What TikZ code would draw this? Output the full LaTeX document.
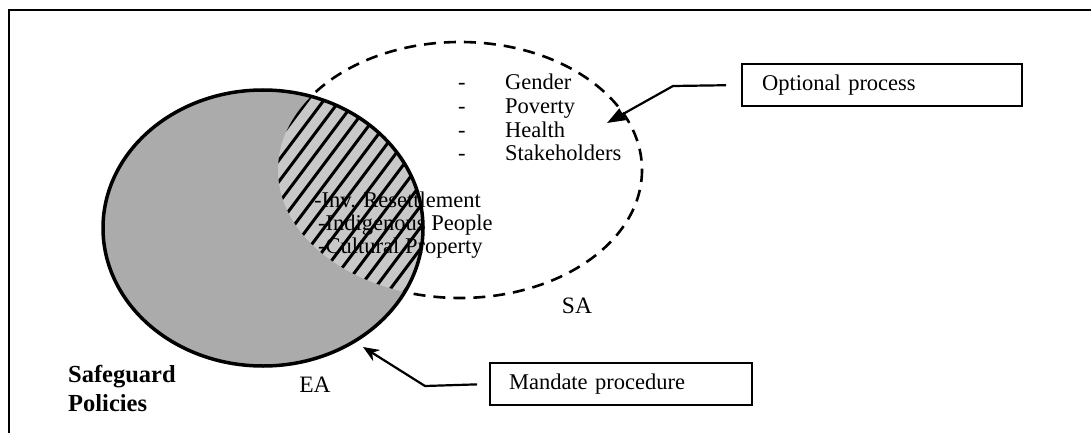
\documentclass[tikz,border=0pt]{standalone}
\usepackage{fontspec}
\setmainfont{Liberation Serif}
\usetikzlibrary{arrows.meta}
\definecolor{eagray}{HTML}{ABABAB}
\definecolor{hatchgray}{HTML}{C8C8C8}
\begin{document}
\begin{tikzpicture}[x=1pt,y=-1pt,
  txt/.style={inner sep=0pt, anchor=base west, font=\fontsize{22.5}{24}\selectfont},
  bigtxt/.style={inner sep=0pt, anchor=base, font=\fontsize{23.5}{25}\selectfont},
  titletxt/.style={inner sep=0pt, anchor=base west, font=\bfseries\fontsize{24.5}{29}\selectfont},
  callout/.style={draw, line width=1.8pt, minimum height=42pt, inner ysep=0pt,
    align=left, font=\fontsize{22.5}{24}\selectfont},
  pointer/.style={line width=2.2pt},
]
\useasboundingbox (0,0) rectangle (1091,433);

% page frame (top and left edges)
\draw[line width=2pt] (9,433) -- (9,10) -- (1091,10);

% SA: dashed circle of the optional social assessment
\draw[line width=2.6pt, dash pattern=on 12pt off 8pt]
  (460,170) ellipse [x radius=182, y radius=128];

% EA: filled circle of the environmental assessment
\fill[eagray] (263,228) ellipse [x radius=160, y radius=138];

% overlap of EA and SA, hatched
\begin{scope}
  \clip (263,228) ellipse [x radius=160, y radius=138];
  \clip (460,170) ellipse [x radius=182, y radius=128];
  \fill[hatchgray] (250,30) rectangle (450,330);
  \foreach \k in {0,...,24}
    \draw[line width=3pt] (80+\k*16,340) -- ++(195,-260);
\end{scope}

% EA outline
\draw[line width=3.5pt] (263,228) ellipse [x radius=160, y radius=138];

% items of the social assessment
\foreach \t/\y in {Gender/90, Poverty/113.5, Health/137, Stakeholders/160.5}{
  \node[txt] (d\t) at (458,\y) {-};
  \node[txt] (i\t) at (505,\y) {\t};
}

% safeguard policy items in the overlap
\node[txt] (inv) at (314,207) {-Inv. Resettlement};
\node[txt] (ind) at (318,230) {-Indigenous People};
\node[txt] (cul) at (318,253) {-Cultural Property};

% circle labels
\node[bigtxt] (sa) at (577,313) {SA};
\node[bigtxt] (ea) at (315,392) {EA};
\node[titletxt] (sg1) at (68,382) {Safeguard};
\node[titletxt] (sg2) at (68,411) {Policies};

% call-out boxes
\node[callout, minimum width=280pt, text width=240pt, inner xsep=20pt] (opt) at (882,85) {Optional process};
\node[callout, minimum width=262pt, text width=224pt, inner xsep=19pt] (man) at (621,384) {Mandate procedure};

% pointers
\coordinate (optBend) at (673,86);
\coordinate (optTip) at (607,123);
\draw[pointer, shorten <=15pt, -{Triangle[length=18pt,width=13pt]}]
  (opt.west) -- (optBend) -- (optTip);

\coordinate (manBend) at (425,386);
\coordinate (manTip) at (363,347);
\draw[pointer, shorten <=12pt, -{Stealth[length=16pt,width=13pt]}]
  (man.west) -- (manBend) -- (manTip);
\end{tikzpicture}
\end{document}
